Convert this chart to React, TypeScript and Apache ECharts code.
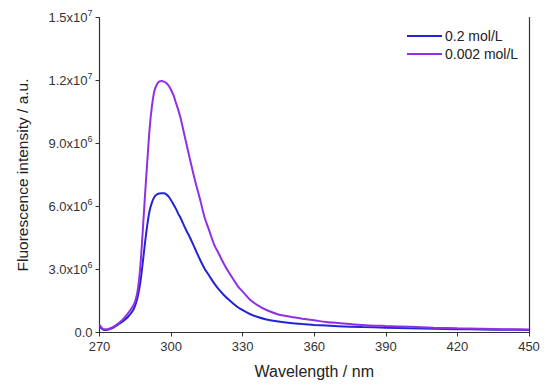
import React, { useEffect, useRef } from "react";
import * as echarts from "echarts";

const wavelengths = [
  270, 271, 272, 273, 274, 276, 278, 280, 282, 284, 285, 286, 287, 288, 289, 290,
  291, 292, 293, 294, 295, 296, 297, 298, 299, 300, 301, 302, 303, 304, 306, 308,
  310, 312, 314, 316, 318, 320, 322, 324, 326, 328, 330, 333, 336, 340, 345, 350,
  355, 360, 365, 370, 380, 390, 400, 410, 420, 430, 440, 450,
];

// values in units of 1e6
const conc02 = [
  0.28, 0.18, 0.12, 0.12, 0.15, 0.25, 0.4, 0.55, 0.75, 1.05, 1.3, 1.7, 2.3, 3.2, 4.2, 5.1,
  5.8, 6.2, 6.45, 6.57, 6.62, 6.63, 6.63, 6.58, 6.47, 6.3, 6.1, 5.9, 5.65, 5.45, 4.95, 4.5,
  4.0, 3.5, 3.05, 2.7, 2.35, 2.05, 1.8, 1.58, 1.38, 1.2, 1.06, 0.88, 0.75, 0.62, 0.52, 0.45,
  0.4, 0.36, 0.33, 0.3, 0.26, 0.23, 0.2, 0.18, 0.16, 0.14, 0.13, 0.12,
];

const conc0002 = [
  0.36, 0.22, 0.15, 0.15, 0.18, 0.28, 0.44, 0.65, 0.92, 1.25, 1.5, 2.0, 3.0, 4.6, 6.4, 8.1,
  9.7, 10.8, 11.5, 11.8, 11.95, 11.98, 11.95, 11.88, 11.75, 11.55, 11.3, 10.95, 10.6, 10.2, 9.2, 8.2,
  7.25, 6.4, 5.5, 4.85, 4.2, 3.75, 3.3, 2.9, 2.55, 2.2, 1.95, 1.57, 1.32, 1.07, 0.86, 0.75,
  0.66, 0.58, 0.5, 0.45, 0.36, 0.31, 0.27, 0.23, 0.2, 0.18, 0.16, 0.14,
];

const seriesNames = ["0.2 mol/L", "0.002 mol/L"];
const xTicks = [270, 300, 330, 360, 390, 420, 450];
const yTickMantissa = ["0.0", "3.0", "6.0", "9.0", "1.2", "1.5"];
const yTickExponent = ["", "6", "6", "6", "7", "7"];

const FONT = "Liberation Sans, Arial, sans-serif";

export default function App() {
  const ref = useRef<HTMLDivElement>(null);
  useEffect(() => {
    if (!ref.current) return;
    const chart = echarts.init(ref.current, undefined, { renderer: "svg" });
    const toPairs = (vals: number[]) => wavelengths.map((w, i) => [w, vals[i] * 1e6]);
    chart.setOption({
      animation: false,
      backgroundColor: "#ffffff",
      textStyle: { fontFamily: FONT },
      grid: { left: 99.5, right: 21, top: 17.5, bottom: 55.5, containLabel: false },
      legend: {
        orient: "vertical",
        left: 402,
        top: 24,
        itemGap: 4,
        itemWidth: 35,
        itemHeight: 2,
        icon: "rect",
        textStyle: { fontFamily: FONT, fontSize: 14, color: "#222", padding: [0, 0, 0, -2] },
        data: seriesNames,
      },
      xAxis: [
        {
          type: "value",
          min: xTicks[0],
          max: xTicks[xTicks.length - 1],
          interval: 30,
          name: "Wavelength / nm",
          nameLocation: "middle",
          nameGap: 31,
          nameTextStyle: { fontFamily: FONT, fontSize: 16, color: "#222" },
          axisLine: { lineStyle: { color: "#333", width: 1.2 } },
          axisTick: { show: true, inside: false, length: 4, lineStyle: { color: "#333" } },
          axisLabel: { fontFamily: FONT, fontSize: 13, color: "#333", margin: 7 },
          splitLine: { show: false },
        },
        {
          type: "value",
          position: "top",
          min: 270,
          max: 450,
          axisLine: { show: true, lineStyle: { color: "#333", width: 1.2 } },
          axisTick: { show: false },
          axisLabel: { show: false },
          splitLine: { show: false },
        },
      ],
      yAxis: [
        {
          type: "value",
          min: 0,
          max: 1.5e7,
          interval: 3e6,
          name: "Fluorescence intensity / a.u.",
          nameLocation: "middle",
          nameGap: 69,
          nameTextStyle: { fontFamily: FONT, fontSize: 15.5, color: "#222" },
          axisLine: { show: true, lineStyle: { color: "#333", width: 1.2 } },
          axisTick: { show: true, inside: false, length: 4, lineStyle: { color: "#333" } },
          axisLabel: {
            fontFamily: FONT,
            fontSize: 13,
            color: "#333",
            margin: 7,
            formatter: (v: number) => {
              const i = Math.round(v / 3e6);
              const m = yTickMantissa[i];
              const e = yTickExponent[i];
              return e ? `{a|${m}x10}{s|${e}}` : `{a|${m}}`;
            },
            rich: {
              a: { fontFamily: FONT, fontSize: 13, color: "#333" },
              s: { fontFamily: FONT, fontSize: 9, color: "#333", padding: [0, 0, 9, 0] },
            },
          },
          splitLine: { show: false },
        },
        {
          type: "value",
          position: "right",
          min: 0,
          max: 1.5e7,
          axisLine: { show: true, lineStyle: { color: "#333", width: 1.2 } },
          axisTick: { show: false },
          axisLabel: { show: false },
          splitLine: { show: false },
        },
      ],
      series: [
        {
          name: seriesNames[0],
          type: "line",
          data: toPairs(conc02),
          smooth: 0.3,
          showSymbol: false,
          color: "#2424d4",
          lineStyle: { width: 2, color: "#2424d4" },
        },
        {
          name: seriesNames[1],
          type: "line",
          data: toPairs(conc0002),
          smooth: 0.3,
          showSymbol: false,
          color: "#9030e6",
          lineStyle: { width: 2, color: "#9030e6" },
        },
      ],
    });
    return () => chart.dispose();
  }, []);
  return <div ref={ref} style={{ width: 550, height: 388, position: "fixed", left: 0, top: 0 }} />;
}
